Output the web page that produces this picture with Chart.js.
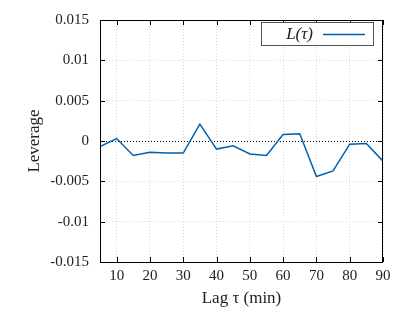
<!DOCTYPE html>
<html>
<head>
<meta charset="utf-8">
<script src="https://cdn.jsdelivr.net/npm/chart.js@4"></script>
<style>
  html, body { margin: 0; padding: 0; background: #fff; }
</style>
</head>
<body>
<canvas id="myChart" width="407" height="313"></canvas>
<script>
// data
const lags = [5, 10, 15, 20, 25, 30, 35, 40, 45, 50, 55, 60, 65, 70, 75, 80, 85, 90]
const leverage = [-0.0007, 0.0003, -0.0018, -0.0014, -0.0015, -0.0015, 0.0021, -0.001, -0.0006, -0.0016, -0.0018, 0.0008, 0.0009, -0.0044, -0.0037, -0.0004, -0.0003, -0.0025]
const xTicks = [10, 20, 30, 40, 50, 60, 70, 80, 90]
const yTicks = [-0.015, -0.01, -0.005, 0, 0.005, 0.01, 0.015]
const seriesLabel = 'L(τ)'

const FONT = "'Liberation Serif', 'DejaVu Serif', serif"
const BLUE = '#0060ad'

// frame, inward ticks, zero line and the legend box
const decor = {
    id: 'decor',
    beforeDatasetsDraw(chart){
        const {ctx, chartArea: a, scales: {x, y}} = chart
        ctx.save()
        ctx.strokeStyle = '#000'
        ctx.lineWidth = 1
        ctx.setLineDash([1, 2])
        const y0 = Math.round(y.getPixelForValue(0)) + 0.5
        ctx.beginPath()
        ctx.moveTo(a.left, y0)
        ctx.lineTo(a.right, y0)
        ctx.stroke()
        ctx.restore()
    },
    afterDraw(chart){
        const {ctx, chartArea: a, scales: {x, y}} = chart
        ctx.save()
        ctx.strokeStyle = '#000'
        ctx.lineWidth = 1
        ctx.strokeRect(a.left + 0.5, a.top + 0.5, a.right - a.left - 1, a.bottom - a.top)
        const t = 5
        ctx.beginPath()
        for (let v of xTicks){
            const px = Math.round(x.getPixelForValue(v)) + 0.5
            ctx.moveTo(px, a.bottom); ctx.lineTo(px, a.bottom - t)
            ctx.moveTo(px, a.top); ctx.lineTo(px, a.top + t)
        }
        for (let v of yTicks){
            const py = Math.round(y.getPixelForValue(v)) + 0.5
            ctx.moveTo(a.left, py); ctx.lineTo(a.left + t, py)
            ctx.moveTo(a.right, py); ctx.lineTo(a.right - t, py)
        }
        ctx.stroke()

        // legend
        const bx = 261, by = 22, bw = 112, bh = 23
        ctx.fillStyle = '#fff'
        ctx.fillRect(bx, by, bw, bh)
        ctx.strokeStyle = '#555'
        ctx.strokeRect(bx + 0.5, by + 0.5, bw, bh)
        ctx.fillStyle = '#222'
        ctx.font = "italic 17px " + FONT
        ctx.textBaseline = 'middle'
        ctx.textAlign = 'right'
        ctx.fillText(seriesLabel, bx + 52, by + bh / 2 + 1)
        ctx.strokeStyle = BLUE
        ctx.lineWidth = 1.5
        ctx.beginPath()
        ctx.moveTo(bx + 62, by + bh / 2 + 1)
        ctx.lineTo(bx + 104, by + bh / 2 + 1)
        ctx.stroke()
        ctx.restore()
    }
}

let g
window.addEventListener('DOMContentLoaded', () => {
    g = new Chart(document.getElementById('myChart').getContext('2d'), {
        type: 'line',
        data: {
            datasets: [{
                label: seriesLabel,
                data: lags.map((l, i) => ({x: l, y: leverage[i]})),
                borderColor: BLUE,
                borderWidth: 1.5,
                pointRadius: 0,
                tension: 0,
                fill: false
            }]
        },
        options: {
            responsive: false,
            animation: false,
            devicePixelRatio: 1,
            layout: { padding: { top: 18, right: 24, left: 0, bottom: 0 } },
            plugins: { legend: { display: false }, tooltip: { enabled: false } },
            scales: {
                x: {
                    type: 'linear',
                    min: 5,
                    max: 90,
                    afterBuildTicks: s => { s.ticks = xTicks.map(v => ({value: v})) },
                    afterFit: s => { s.height = 51 },
                    grid: { color: '#dadada', tickLength: 0, drawTicks: false },
                    border: { display: false, dash: [1, 2] },
                    ticks: { color: '#222', font: { family: FONT, size: 15 }, padding: 5, maxRotation: 0, autoSkip: false },
                    title: { display: true, text: 'Lag τ (min)', color: '#222', font: { family: FONT, size: 17 }, padding: { top: 1 } }
                },
                y: {
                    type: 'linear',
                    min: -0.015,
                    max: 0.015,
                    afterBuildTicks: s => { s.ticks = yTicks.map(v => ({value: v})) },
                    afterFit: s => { s.width = 100 },
                    grid: { color: '#dadada', tickLength: 0, drawTicks: false },
                    border: { display: false, dash: [1, 2] },
                    ticks: {
                        color: '#222', font: { family: FONT, size: 15 }, padding: 11, autoSkip: false,
                        callback: v => Number(v.toFixed(3)).toString()
                    },
                    title: { display: true, text: 'Leverage', color: '#222', font: { family: FONT, size: 17 }, padding: { top: 24, bottom: 0 } }
                }
            }
        },
        plugins: [decor]
    })
})
</script>
</body>
</html>
